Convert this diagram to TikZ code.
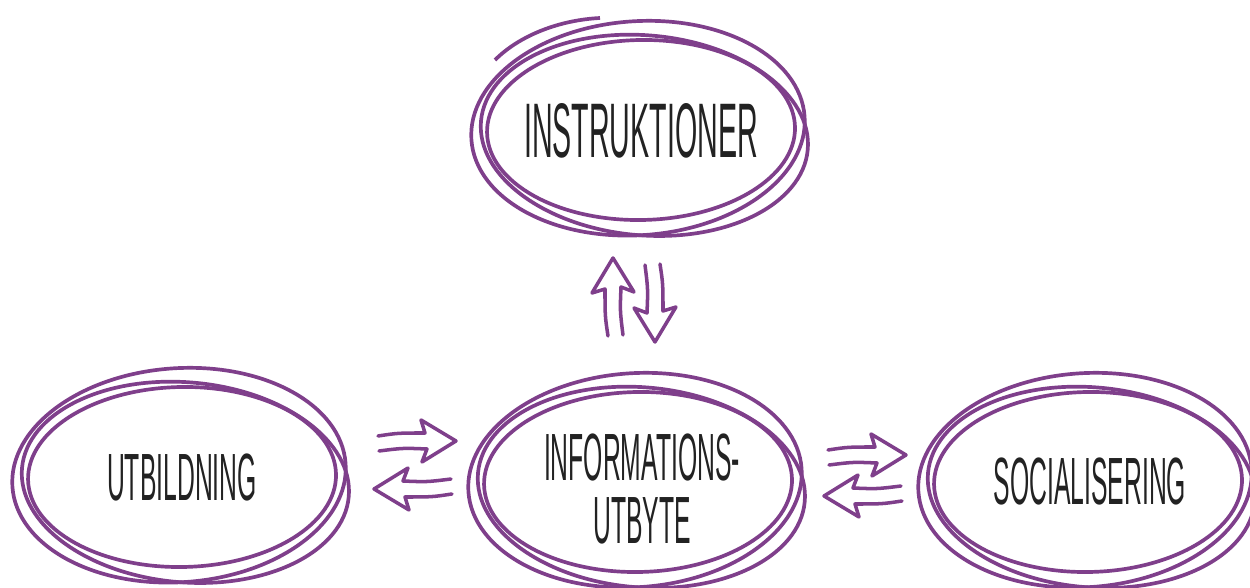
\documentclass[tikz,border=0pt]{standalone}
\usepackage{fontspec}
\newfontfamily\handfont[FakeStretch=0.37]{Liberation Sans}
\definecolor{plum}{HTML}{7F3F8B}
\definecolor{ink}{HTML}{222222}
\tikzset{every picture/.style={line width=0.85pt}}
\tikzset{
  ring/.style={draw=plum, line width=1.05pt},
  word/.style={font=\handfont\fontsize{19}{18}\selectfont, text=ink, align=center},
  bigword/.style={word, font=\handfont\fontsize{22}{24}\selectfont},
  pics/swap/.style={code={
    \draw[plum, line width=1pt, line join=round, line cap=round]
      (0,-4) .. controls (20,-7) .. (47,-7) -- (43,-20) -- (78,1) -- (44,22) -- (49,9)
      .. controls (25,8) .. (1,11);
  }}
}
\begin{document}
\begin{tikzpicture}[x=0.01cm, y=-0.01cm]
  \useasboundingbox (0,0) rectangle (1250,588);
  % texts
  \node[bigword] (instr) at (641,131) {INSTRUKTIONER};
  \node[word] (utb) at (182,478) {UTBILDNING};
  \node[word] (info) at (642,489) {INFORMATIONS-\\UTBYTE};
  \node[word] (soc) at (1090,482) {SOCIALISERING};
  % sketched rings
  \foreach \n/\cx/\cy in {instr/641/128, utb/182/475, info/638/480, soc/1088/480}
    \foreach \dx/\dy/\rx/\ry/\a in {0/2/154/90/1, 4/7/164/100/-5, -3/0/167/107/4}
      \draw[ring, rotate around={\a:(\cx,\cy)}] (\cx,\cy) ++(\dx,\dy) ellipse [x radius=\rx, y radius=\ry];
  \draw[ring] (600,18) .. controls (560,20) and (520,35) .. (495,60);
  % exchange arrows
  \path (612,336) coordinate (up)
        (656,264) coordinate (down)
        (378,440) coordinate (uin)
        (452,490) coordinate (uout)
        (828,454) coordinate (sout)
        (902,497) coordinate (sin);
  \pic[rotate=90] at (up) {swap};
  \pic[rotate=-90] at (down) {swap};
  \pic at (uin) {swap};
  \pic[rotate=180] at (uout) {swap};
  \pic at (sout) {swap};
  \pic[rotate=180] at (sin) {swap};
\end{tikzpicture}
\end{document}
